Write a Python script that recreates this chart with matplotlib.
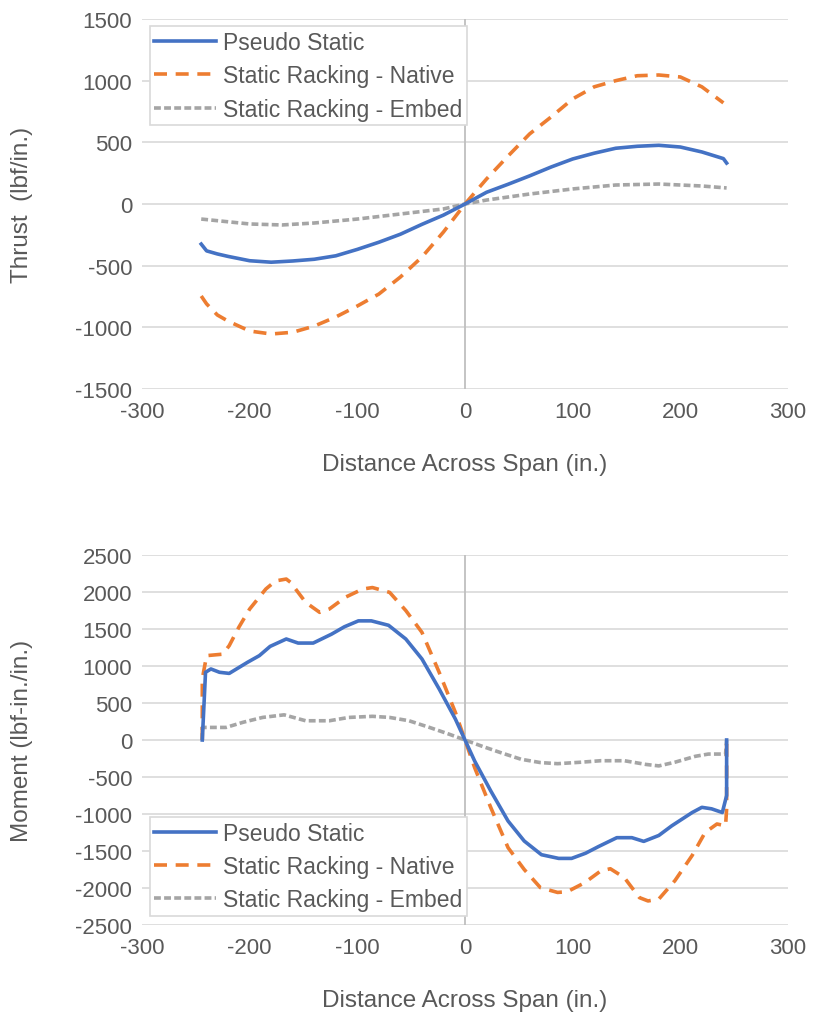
import matplotlib.pyplot as plt

plt.rcParams['font.family'] = ['Liberation Sans', 'DejaVu Sans']
plt.rcParams['axes.unicode_minus'] = False

BLUE = '#4472C4'
ORANGE = '#ED7D31'
GRAY = '#A5A5A5'
TXT = '#595959'

# thrust along the span
thr_x = [-245, -240, -230, -220, -200, -180, -160, -140, -120, -100, -80, -60, -40, -20, 0,
         20, 40, 60, 80, 100, 120, 140, 160, 180, 200, 220, 240, 243]
thr_pseudo = [-325, -380, -405, -425, -460, -472, -462, -448, -420, -368, -310, -245, -165, -90, 0,
              95, 160, 228, 300, 365, 412, 452, 468, 476, 462, 422, 368, 332]
thr_x_nat = [-245, -240, -230, -220, -200, -180, -160, -140, -120, -100, -80, -60, -40, -20, 0,
             20, 40, 60, 80, 100, 120, 140, 160, 180, 200, 220, 240]
thr_native = [-746, -810, -900, -950, -1030, -1054, -1040, -990, -916, -827, -730, -592, -430, -227, 0,
              203, 389, 568, 706, 852, 950, 1000, 1040, 1046, 1030, 950, 820]
thr_x_emb = [-245, -200, -170, -140, -100, -60, -20, 0, 20, 60, 100, 140, 180, 220, 243]
thr_embed = [-122, -162, -170, -154, -122, -81, -40, 0, 32, 81, 122, 154, 162, 146, 130]

# moment along the span
mom_x_ps = [-244, -241, -236, -228, -219, -202, -191, -181, -166, -155, -141, -124, -112, -99, -87,
            -71, -55, -40, -24, -9, 0, 9, 24, 40, 55, 71, 87, 99, 112, 124, 141, 155, 166, 180,
            192, 211, 220, 229, 239, 243, 243]
mom_pseudo = [0, 915, 960, 915, 900, 1050, 1140, 1265, 1365, 1310, 1310, 1430, 1530, 1610, 1610,
              1550, 1365, 1095, 690, 285, 0, -285, -690, -1095, -1365, -1550, -1600, -1600, -1530,
              -1440, -1320, -1320, -1370, -1290, -1160, -980, -910, -930, -980, -750, 0]
mom_x_nat = [-244, -244, -240, -225, -219, -210, -200, -185, -176, -166, -162, -148, -135, -126, -111,
             -95, -86, -70, -55, -40, -24, -9, 0, 9, 24, 40, 55, 70, 86, 95, 111, 126, 135, 148,
             162, 170, 180, 195, 211, 223, 234, 242, 243, 243]
mom_native = [0, 825, 1140, 1160, 1275, 1525, 1770, 2040, 2150, 2175, 2130, 1860, 1725, 1770, 1930,
              2040, 2060, 1995, 1750, 1455, 915, 375, 0, -375, -915, -1455, -1750, -1995, -2060,
              -2050, -1930, -1770, -1740, -1860, -2130, -2175, -2150, -1900, -1560, -1250, -1135,
              -1160, -930, 0]
mom_x_emb = [-244, -244, -222, -206, -188, -168, -148, -126, -108, -86, -70, -52, -33, -15, 0,
             15, 33, 52, 70, 86, 108, 126, 148, 168, 180, 195, 214, 226, 242, 243]
mom_embed = [0, 170, 170, 240, 305, 340, 260, 260, 305, 320, 305, 260, 170, 80, 0,
             -80, -170, -260, -305, -320, -300, -280, -280, -330, -350, -300, -220, -190, -190, 0]

labels = ['Pseudo Static', 'Static Racking - Native', 'Static Racking - Embed']

fig = plt.figure(figsize=(8.2, 10.2), dpi=100)
ax1 = fig.add_axes([142 / 820, 1 - 390 / 1020, 646 / 820, 370 / 1020])
ax2 = fig.add_axes([142 / 820, 1 - 926 / 1020, 646 / 820, 370 / 1020])


def style(ax, ylim, step, ylabel):
    ax.set_xlim(-300, 300)
    ax.set_ylim(*ylim)
    ax.set_xticks(range(-300, 301, 100))
    ax.set_yticks(range(ylim[0], ylim[1] + 1, step))
    for s in ax.spines.values():
        s.set_visible(False)
    ax.grid(axis='y', color='#D9D9D9', linewidth=1.2)
    ax.set_axisbelow(True)
    ax.axvline(0, color='#BFBFBF', linewidth=1.3, zorder=1)
    ax.tick_params(length=0, labelsize=16, colors=TXT)
    ax.tick_params(axis='x', pad=9)
    ax.tick_params(axis='y', pad=7)
    ax.set_xlabel('Distance Across Span (in.)', fontsize=17.5, color=TXT)
    ax.set_ylabel(ylabel, fontsize=17.5, color=TXT)
    ax.xaxis.set_label_coords(0.5, -0.172)
    ax.yaxis.set_label_coords(-0.168, 0.5)


def draw(ax, series, anchor):
    (x1, y1), (x2, y2), (x3, y3) = series
    ax.plot(x1, y1, color=BLUE, lw=2.6, label=labels[0], zorder=4)
    ax.plot(x2, y2, color=ORANGE, lw=2.6, dashes=(3.6, 2.4), label=labels[1], zorder=3)
    ax.plot(x3, y3, color=GRAY, lw=2.6, dashes=(1.9, 0.9), label=labels[2], zorder=2)
    leg = ax.legend(loc='upper left', bbox_to_anchor=anchor, fontsize=16.5, frameon=True,
                    fancybox=False, edgecolor='#D9D9D9', framealpha=1, borderpad=0.2,
                    labelspacing=0.45, handlelength=2.7, handletextpad=0.3, borderaxespad=0)
    leg.get_frame().set_linewidth(1.2)
    for t in leg.get_texts():
        t.set_color(TXT)


style(ax1, (-1500, 1500), 500, 'Thrust  (lbf/in.)')
draw(ax1, [(thr_x, thr_pseudo), (thr_x_nat, thr_native), (thr_x_emb, thr_embed)], (0.012, 0.98))

style(ax2, (-2500, 2500), 500, 'Moment (lbf-in./in.)')
draw(ax2, [(mom_x_ps, mom_pseudo), (mom_x_nat, mom_native), (mom_x_emb, mom_embed)], (0.012, 0.292))

fig.savefig('out.png', dpi=100)
